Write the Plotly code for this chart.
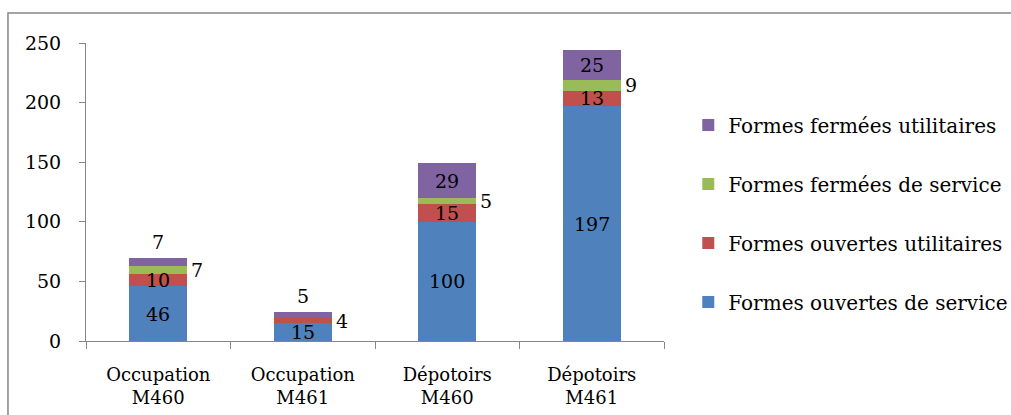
import plotly.graph_objects as go

categories = ["Occupation<br>M460", "Occupation<br>M461", "Dépotoirs<br>M460", "Dépotoirs<br>M461"]
ouvertes_service = [46, 15, 100, 197]
ouvertes_utilitaires = [10, 4, 15, 13]
fermees_service = [7, 0, 5, 9]
fermees_utilitaires = [7, 5, 29, 25]

series = [
    ("Formes ouvertes de service", ouvertes_service, "#4F81BD"),
    ("Formes ouvertes utilitaires", ouvertes_utilitaires, "#C0504D"),
    ("Formes fermées de service", fermees_service, "#9BBB59"),
    ("Formes fermées utilitaires", fermees_utilitaires, "#8064A2"),
]

FONT = "DejaVu Serif"
fig = go.Figure()
for i, (name, vals, color) in enumerate(series):
    fig.add_trace(go.Bar(
        x=list(range(len(categories))), y=vals, name=name,
        marker=dict(color=color, line=dict(width=0)),
        legendgroup=f"g{i}", legendrank=len(series) - i, hoverinfo="skip",
    ))

annotations = []
base = [0] * len(categories)
for si, (name, vals, color) in enumerate(series):
    for ci, v in enumerate(vals):
        if v > 0:
            mid = base[ci] + v / 2
            top = base[ci] + v
            if si == 2 or (si == 1 and v < 6):
                annotations.append(dict(x=ci, y=mid, text=str(v), showarrow=False,
                                        xanchor="left", xshift=31, font=dict(size=19, family=FONT, color="black")))
            elif si == 3 and v < 10:
                annotations.append(dict(x=ci, y=top, text=str(v), showarrow=False,
                                        yanchor="bottom", yshift=3, font=dict(size=19, family=FONT, color="black")))
            else:
                annotations.append(dict(x=ci, y=mid, text=str(v), showarrow=False,
                                        font=dict(size=19, family=FONT, color="black")))
        base[ci] += v

fig.update_layout(
    barmode="stack",
    bargap=0.6,
    width=1011, height=415,
    margin=dict(l=86, r=347, t=43, b=74, autoexpand=False),
    paper_bgcolor="white", plot_bgcolor="white",
    font=dict(family=FONT, size=18, color="black"),
    showlegend=True,
    legend=dict(
        x=1.042, y=0.79, xanchor="left", yanchor="top",
        tracegroupgap=30,
        font=dict(size=20, family=FONT, color="black"),
        itemwidth=30,
    ),
    xaxis=dict(
        tickmode="array", tickvals=list(range(len(categories))), ticktext=categories,
        range=[-0.5, len(categories) - 0.5],
        showline=True, linecolor="#868686", linewidth=1,
        ticks="", showgrid=False, zeroline=False,
        tickfont=dict(size=18, family=FONT),
        ticklabelstandoff=17,
        minor=dict(tickmode="array", tickvals=[-0.5, 0.5, 1.5, 2.5, 3.5],
                   ticks="outside", ticklen=7, tickcolor="#868686"),
    ),
    yaxis=dict(
        range=[0, 250], dtick=50, tick0=0,
        showline=True, linecolor="#868686", linewidth=1,
        ticks="outside", ticklen=6, tickcolor="#868686",
        showgrid=False, zeroline=False,
        tickfont=dict(size=19, family=FONT),
        ticklabelstandoff=14,
    ),
    annotations=annotations,
    shapes=[
        dict(type="rect", xref="paper", yref="paper", x0=-0.135, x1=2.0, y0=-1.0, y1=1.1007,
             line=dict(color="#868686", width=1.5), fillcolor="rgba(0,0,0,0)", layer="above"),
    ],
)

fig.write_html("out.html", config={"displayModeBar": False},
               post_script="document.body.style.margin='0';document.body.style.overflow='hidden';")
